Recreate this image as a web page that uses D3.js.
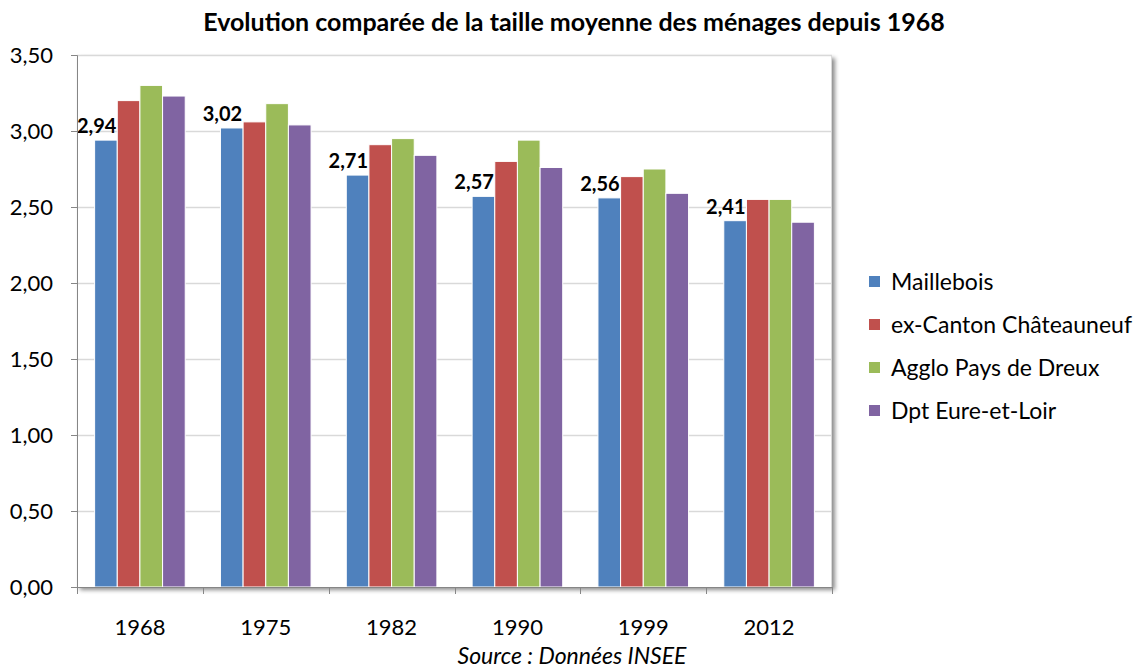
<!DOCTYPE html>
<html>
<head>
<meta charset="utf-8">
<script src="https://cdn.jsdelivr.net/npm/d3@7"></script>
<style>
  body { margin: 0; background: #fff; }
  svg { display: block; font-family: Lato, "Open Sans", sans-serif; }
</style>
</head>
<body>
<svg id="chart" width="1137" height="670"></svg>
<script>
const years = ['1968', '1975', '1982', '1990', '1999', '2012'];
const seriesNames = ['Maillebois', 'ex-Canton Châteauneuf', 'Agglo Pays de Dreux', 'Dpt Eure-et-Loir'];
const maillebois = [2.94, 3.02, 2.71, 2.57, 2.56, 2.41];
const canton = [3.20, 3.06, 2.91, 2.80, 2.70, 2.55];
const agglo = [3.30, 3.18, 2.95, 2.94, 2.75, 2.55];
const dpt = [3.23, 3.04, 2.84, 2.76, 2.59, 2.40];
const yTicks = [0, 0.5, 1, 1.5, 2, 2.5, 3, 3.5];
const colors = ['#4f81bd', '#c0504d', '#9bbb59', '#8064a2'];

const seriesValues = [maillebois, canton, agglo, dpt];
const fr = d3.formatLocale({ decimal: ',', thousands: ' ', grouping: [3], currency: ['', ' €'] });
const fmt = fr.format('.2f');

const svg = d3.select('#chart');
const m = { left: 77, top: 55, right: 305, bottom: 83 };
const W = 1137 - m.left - m.right;
const H = 670 - m.top - m.bottom;

const defs = svg.append('defs');
const f = defs.append('filter').attr('id', 'shadow').attr('x', '-5%').attr('y', '-5%').attr('width', '115%').attr('height', '115%');
f.append('feDropShadow').attr('dx', 3).attr('dy', 3).attr('stdDeviation', 2).attr('flood-color', '#000').attr('flood-opacity', 0.45);

svg.append('text')
  .attr('x', 574).attr('y', 31)
  .attr('text-anchor', 'middle')
  .attr('font-weight', 'bold').attr('font-size', 25)
  .text('Evolution comparée de la taille moyenne des ménages depuis 1968');

const g = svg.append('g').attr('transform', `translate(${m.left},${m.top})`);

const x = d3.scaleBand().domain(years).range([0, W]).paddingInner(0.28).paddingOuter(0.14);
const xs = d3.scaleBand().domain(d3.range(4)).range([0, x.bandwidth()]);
const y = d3.scaleLinear().domain([0, 3.5]).range([H, 0]);

// plot area with shadow
g.append('rect').attr('width', W).attr('height', H)
  .attr('fill', '#fff').attr('filter', 'url(#shadow)');

g.append('g').selectAll('line').data(yTicks.filter(d => d > 0)).join('line')
  .attr('x1', 0).attr('x2', W)
  .attr('y1', d => Math.round(y(d)) + 0.5).attr('y2', d => Math.round(y(d)) + 0.5)
  .attr('stroke', '#d9d9d9').attr('stroke-width', 1.5);

g.append('line').attr('x1', W - 0.5).attr('x2', W - 0.5).attr('y1', 0).attr('y2', H)
  .attr('stroke', '#d9d9d9');

const groups = g.append('g').selectAll('g').data(seriesValues).join('g')
  .attr('fill', (d, i) => colors[i]);
groups.each(function (vals, si) {
  d3.select(this).selectAll('rect').data(vals).join('rect')
    .attr('x', (d, i) => x(years[i]) + xs(si))
    .attr('y', d => y(d))
    .attr('width', xs.bandwidth())
    .attr('height', d => H - y(d))
    .attr('stroke', '#fff').attr('stroke-width', 1);
});

g.append('g').selectAll('text').data(maillebois).join('text')
  .attr('x', (d, i) => x(years[i]) + 2)
  .attr('y', d => y(d) - 7)
  .attr('text-anchor', 'middle')
  .attr('font-weight', 'bold').attr('font-size', 20)
  .text(d => fmt(d));

const yAxis = g.append('g')
  .call(d3.axisLeft(y).tickValues(yTicks).tickFormat(fmt).tickSize(6).tickPadding(18));
yAxis.select('.domain').attr('stroke', '#868686');
yAxis.selectAll('.tick line').attr('stroke', '#868686');
yAxis.selectAll('text').attr('font-size', 22).attr('fill', '#000').attr('font-family', 'Lato, sans-serif');

const xAxis = g.append('g').attr('transform', `translate(0,${H})`)
  .call(d3.axisBottom(x).tickSize(0).tickPadding(32));
xAxis.select('.domain').attr('stroke', '#868686');
xAxis.selectAll('text').attr('font-size', 22).attr('fill', '#000').attr('font-family', 'Lato, sans-serif');
const bounds = d3.range(years.length + 1).map(i => i * W / years.length);
g.append('g').selectAll('line').data(bounds).join('line')
  .attr('x1', d => Math.round(d) + 0.5).attr('x2', d => Math.round(d) + 0.5)
  .attr('y1', H).attr('y2', H + 7)
  .attr('stroke', '#868686');

svg.append('text')
  .attr('x', 572).attr('y', 664)
  .attr('text-anchor', 'middle')
  .attr('font-style', 'italic').attr('font-size', 23)
  .text('Source : Données INSEE');

const legend = svg.append('g').attr('transform', 'translate(869,282)');
const item = legend.selectAll('g').data(seriesNames).join('g')
  .attr('transform', (d, i) => `translate(0,${i * 43})`);
item.append('rect').attr('x', 0).attr('y', -6).attr('width', 11).attr('height', 11)
  .attr('fill', (d, i) => colors[i]);
item.append('text').attr('x', 22).attr('y', 8)
  .attr('font-size', 23).text(d => d);
</script>
</body>
</html>
